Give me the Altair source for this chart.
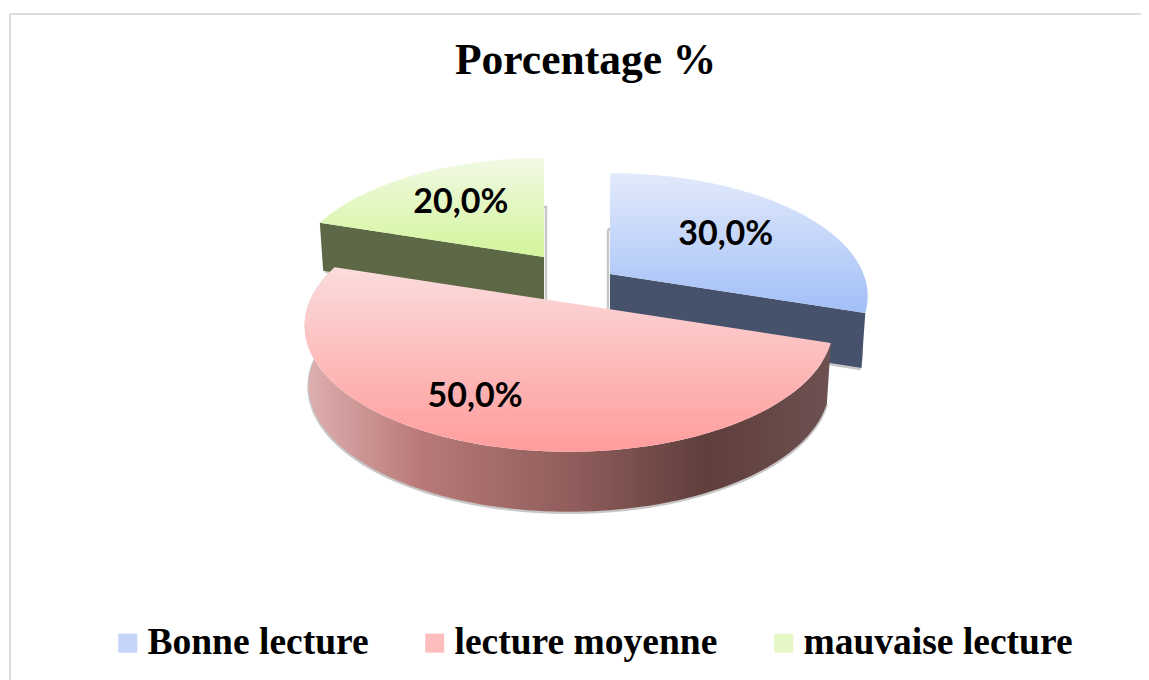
import math
import altair as alt

categories = ["Bonne lecture", "lecture moyenne", "mauvaise lecture"]
shares = [30.0, 50.0, 20.0]
labels = ["30,0%", "50,0%", "20,0%"]
title_text = "Porcentage %"

W, H = 1133, 672
CX, CY, A, B, P = 561, 295, 260, 122, 0.18
SHRINK = 0.985
# explode offset, scale, depth per slice (pixels in chart space)
layout = [
    dict(dx=41, dy=-29, k=0.975, depth=55),
    dict(dx=0, dy=0, k=1.0, depth=60),
    dict(dx=-25, dy=-46, k=0.957, depth=48),
]
label_pos = [(54, 0.6), (205, 0.75), (324, 0.62)]

top_grads = [("#e2eafb", "#a2bff7"), ("#fbdcdc", "#ff9c9c"), ("#f1f9e4", "#d3f59b")]
swatches = ["#c4d5f9", "#fdbdbd", "#e5f7c4"]
cut_walls = ["#46526b", None, "#5c6846"]


def pt(theta_deg, r, s):
    t = math.radians(theta_deg)
    X, Z = r * math.sin(t), -r * math.cos(t)
    q = 1 / (1 - P * Z)
    return (CX + s["dx"] + A * X * q * s["k"], CY + s["dy"] + B * Z * q * s["k"])


def apex(s):
    return list(pt(0, 0, s))


def low(p, s):
    """The same point on the lower face of the disc."""
    ax = apex(s)[0]
    return [ax + (p[0] - ax) * SHRINK, p[1] + s["depth"]]


def arc(t0, t1, s, n=90):
    return [list(pt(t0 + (t1 - t0) * i / n, 1, s)) for i in range(n + 1)]


def feat(coords, kind="Polygon"):
    geometry = {"type": "Polygon", "coordinates": [coords + [coords[0]]]} if kind == "Polygon" else {
        "type": "LineString", "coordinates": coords}
    return {"type": "Feature", "properties": {}, "geometry": geometry}


PROJ = dict(type="identity", scale=1, translate=[0, 0])


def vgrad(c0, c1):
    return alt.LinearGradient(gradient="linear", x1=0, x2=0, y1=0, y2=1,
                              stops=[alt.GradientStop(color=c0, offset=0), alt.GradientStop(color=c1, offset=1)])


def shape(f, **kw):
    return alt.Chart(alt.Data(values=[f])).mark_geoshape(**kw).project(**PROJ)


# slice angles derived from the values, clockwise from 12 o'clock
starts, acc = [], 0.0
for v in shares:
    starts.append((acc, acc + v * 3.6))
    acc += v * 3.6

blue, pink, green = layout
layers = []

# frame
frame = alt.Chart(alt.Data(values=[{"a": 0}]))
layers.append(frame.mark_rule(color="#dddddd", strokeWidth=2).encode(
    x=alt.value(2), y=alt.value(6), y2=alt.value(H)))
layers.append(frame.mark_rule(color="#dddddd", strokeWidth=2).encode(
    x=alt.value(2), x2=alt.value(W), y=alt.value(6)))


def draw_shadow(i, ox, oy):
    s = layout[i]
    t0, t1 = starts[i]
    ring = [low(p, s) for p in arc(t0, t1, s)] + [low(apex(s), s)]
    ring = [[x + ox, y + oy] for x, y in ring]
    layers.append(shape(feat(ring + [ring[0]], "LineString"), fill="transparent", filled=False,
                        stroke="#8f8f8f", strokeWidth=2.5, strokeOpacity=0.5))


def cut_wall(i, edge_angle):
    s = layout[i]
    a = apex(s)
    e = list(pt(edge_angle, 1, s))
    layers.append(shape(feat([e, a, low(a, s), low(e, s)]), fill=cut_walls[i], strokeWidth=0))


def top_face(i):
    s = layout[i]
    t0, t1 = starts[i]
    layers.append(shape(feat(arc(t0, t1, s) + [apex(s)]), fill=vgrad(*top_grads[i]), strokeWidth=0))


# green slice
draw_shadow(2, 2, 1)
cut_wall(2, starts[2][0])
top_face(2)

# blue slice
draw_shadow(0, -2, 1)
cut_wall(0, starts[0][1])
top_face(0)

# pink slice
draw_shadow(1, 0, 1)
rim = arc(starts[1][0], starts[1][1], pink, n=120)
wall_grad = alt.LinearGradient(gradient="linear", x1=0, x2=1, y1=0, y2=0, stops=[
    alt.GradientStop(color="#dfb0b0", offset=0),
    alt.GradientStop(color="#b87a78", offset=0.22),
    alt.GradientStop(color="#8e5c5a", offset=0.52),
    alt.GradientStop(color="#5f3e3c", offset=0.76),
    alt.GradientStop(color="#6d5150", offset=1),
])
layers.append(shape(feat(rim + [low(p, pink) for p in reversed(rim)]), fill=wall_grad, strokeWidth=0))
top_face(1)

# labels and legend
rows = []
for c, lab, (ang, r), s in zip(categories, labels, label_pos, layout):
    x, y = pt(ang, r, s)
    rows.append({"cat": c, "label": lab, "px": x, "py": y})
label_data = alt.Data(values=rows)

layers.append(alt.Chart(label_data).mark_text(
    font="Lato", fontWeight="bold", fontSize=34, color="#000000", align="center", baseline="middle"
).encode(x=alt.X("px:Q", scale=None), y=alt.Y("py:Q", scale=None), text="label:N"))

layers.append(alt.Chart(label_data).mark_point(filled=True, size=0, opacity=0).encode(
    x=alt.X("px:Q", scale=None), y=alt.Y("py:Q", scale=None),
    color=alt.Color("cat:N", sort=None, scale=alt.Scale(domain=categories, range=swatches), legend=alt.Legend(
        orient="none", legendX=101, legendY=616, direction="horizontal", columns=3, title=None,
        symbolType="square", symbolSize=361, symbolOpacity=1, symbolStrokeWidth=0,
        labelFont="Liberation Serif", labelFontWeight="bold", labelFontSize=37.5, labelColor="#000000",
        labelLimit=500, labelOffset=1, columnPadding=47, gridAlign="each", padding=0,
    )),
))

chart = alt.layer(*layers).properties(
    width=W, height=H, padding=0, autosize=alt.AutoSizeParams(type="none"),
    title=alt.TitleParams(title_text, font="Liberation Serif", fontWeight="bold", fontSize=43.5, color="#000000",
                          anchor="start", frame="group", baseline="alphabetic", offset=0, dx=447, dy=109),
    background="white",
).configure_view(stroke=None)

chart.save("out.html", embed_options={"renderer": "svg", "actions": False})
